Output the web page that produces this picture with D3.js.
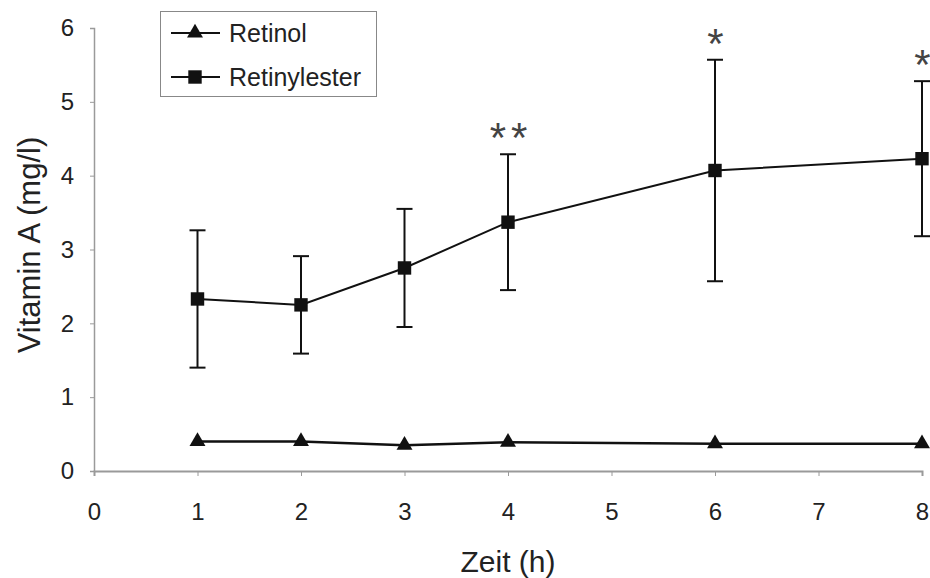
<!DOCTYPE html>
<html>
<head>
<meta charset="utf-8">
<script src="https://cdn.jsdelivr.net/npm/d3@7"></script>
<style>
  html, body { margin: 0; padding: 0; background: #fff; }
  svg { display: block; }
  text { font-family: "Liberation Sans", Arial, sans-serif; fill: #222; }
</style>
</head>
<body>
<svg id="chart" width="930" height="578"></svg>
<script>
// Zeitpunkte (h)
const hours = [1, 2, 3, 4, 6, 8];
// Retinol (mg/l)
const retinol = [0.40, 0.40, 0.35, 0.39, 0.37, 0.37];
// Retinylester (mg/l) mit Standardabweichung
const retinylester = [2.33, 2.25, 2.75, 3.37, 4.07, 4.23];
const retinylesterSD = [0.93, 0.66, 0.80, 0.92, 1.50, 1.05];
// Signifikanzmarken über den Fehlerbalken
const signif = ["", "", "", "**", "*", "*"];
const xTicks = [0, 1, 2, 3, 4, 5, 6, 7, 8];
const yTicks = [0, 1, 2, 3, 4, 5, 6];

const svg = d3.select("#chart");
const x = d3.scaleLinear().domain([0, 8]).range([94, 922]);
const y = d3.scaleLinear().domain([0, 6]).range([471, 28]);

const axisColor = "#9a9a9a";

// x-Achse
const gx = svg.append("g").attr("transform", `translate(0,${y(0)})`)
  .call(d3.axisBottom(x).tickValues(xTicks).tickFormat(d3.format("d")).tickSize(5).tickPadding(27));
gx.select(".domain").attr("stroke", axisColor).attr("stroke-width", 2);
gx.selectAll(".tick line").attr("stroke", axisColor);
gx.selectAll(".tick text").attr("font-size", 24).style("fill", "#222")
  .attr("font-family", "Liberation Sans, Arial, sans-serif");

// y-Achse
const gy = svg.append("g").attr("transform", `translate(${x(0)},0)`)
  .call(d3.axisLeft(y).tickValues(yTicks).tickFormat(d3.format("d")).tickSize(4).tickPadding(16));
gy.select(".domain").attr("stroke", axisColor).attr("stroke-width", 1.5);
gy.selectAll(".tick line").attr("stroke", axisColor);
gy.selectAll(".tick text").attr("font-size", 24).style("fill", "#222")
  .attr("font-family", "Liberation Sans, Arial, sans-serif");

// Achsentitel
svg.append("text").attr("x", 508).attr("y", 572).attr("text-anchor", "middle")
  .attr("font-size", 30).text("Zeit (h)");
svg.append("text").attr("transform", "translate(40,245) rotate(-90)")
  .attr("text-anchor", "middle").attr("font-size", 31).text("Vitamin A (mg/l)");

const lineGen = d3.line().x(d => x(d[0])).y(d => y(d[1]));

// Fehlerbalken Retinylester
const eb = svg.append("g").attr("stroke", "#111").attr("stroke-width", 2);
hours.forEach((h, i) => {
  const lo = retinylester[i] - retinylesterSD[i];
  const hi = retinylester[i] + retinylesterSD[i];
  eb.append("line").attr("x1", x(h)).attr("x2", x(h)).attr("y1", y(lo)).attr("y2", y(hi));
  eb.append("line").attr("x1", x(h) - 8).attr("x2", x(h) + 8).attr("y1", y(lo)).attr("y2", y(lo));
  eb.append("line").attr("x1", x(h) - 8).attr("x2", x(h) + 8).attr("y1", y(hi)).attr("y2", y(hi));
});

// Linien
svg.append("path").datum(hours.map((h, i) => [h, retinylester[i]]))
  .attr("d", lineGen).attr("fill", "none").attr("stroke", "#111").attr("stroke-width", 2);
svg.append("path").datum(hours.map((h, i) => [h, retinol[i]]))
  .attr("d", lineGen).attr("fill", "none").attr("stroke", "#111").attr("stroke-width", 2.5);

// Marker
const sq = d3.symbol().type(d3.symbolSquare).size(180);
const tri = d3.symbol().type(d3.symbolTriangle).size(110);
svg.append("g").selectAll("path").data(hours).join("path")
  .attr("transform", (h, i) => `translate(${x(h)},${y(retinylester[i])})`)
  .attr("d", sq).attr("fill", "#111");
svg.append("g").selectAll("path").data(hours).join("path")
  .attr("transform", (h, i) => `translate(${x(h)},${y(retinol[i])})`)
  .attr("d", tri).attr("fill", "#111");

// Signifikanz
svg.append("g").selectAll("text").data(hours).join("text")
  .attr("x", h => x(h) + 3)
  .attr("y", (h, i) => y(retinylester[i] + retinylesterSD[i]) - 2)
  .attr("text-anchor", "middle")
  .attr("font-size", 42)
  .attr("letter-spacing", 5)
  .attr("font-family", "DejaVu Serif, serif")
  .style("fill", "#444")
  .text((h, i) => signif[i]);

// Legende
const lg = svg.append("g");
lg.append("rect").attr("x", 160.5).attr("y", 11.5).attr("width", 216).attr("height", 85)
  .attr("fill", "#fff").attr("stroke", "#888").attr("stroke-width", 1);
const items = [
  { name: "Retinol", sym: tri, cy: 33 },
  { name: "Retinylester", sym: sq, cy: 77 }
];
items.forEach(it => {
  lg.append("line").attr("x1", 171).attr("x2", 220).attr("y1", it.cy).attr("y2", it.cy)
    .attr("stroke", "#111").attr("stroke-width", 2);
  lg.append("path").attr("transform", `translate(195,${it.cy})`).attr("d", it.sym).attr("fill", "#111");
  lg.append("text").attr("x", 229).attr("y", it.cy).attr("dy", "0.36em")
    .attr("font-size", 25).text(it.name);
});
</script>
</body>
</html>
